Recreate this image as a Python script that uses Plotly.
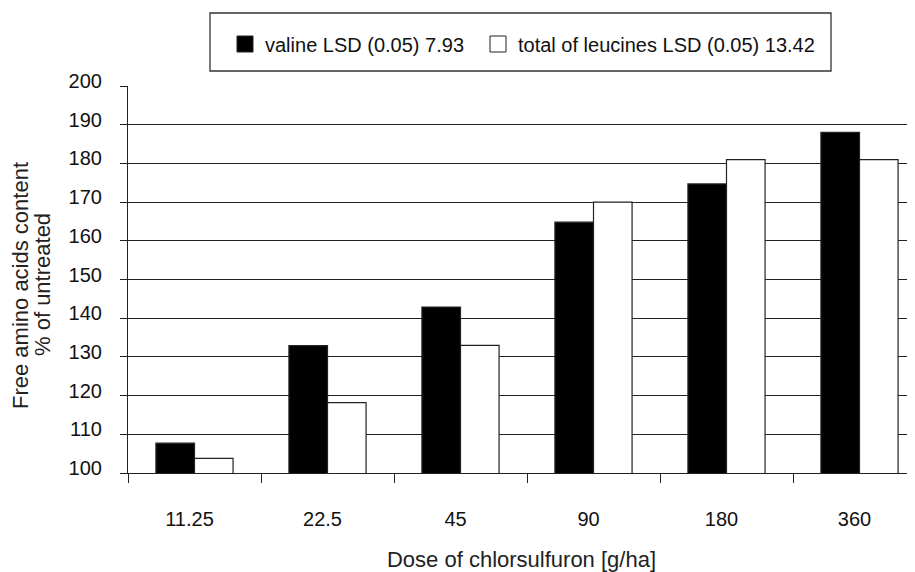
import plotly.graph_objects as go

doses = ["11.25", "22.5", "45", "90", "180", "360"]
valine = [107.7, 132.9, 142.9, 164.8, 174.7, 188.0]
leucines = [103.8, 118.2, 133.0, 170.0, 181.0, 181.0]
y_ticks = [100, 110, 120, 130, 140, 150, 160, 170, 180, 190, 200]
names = ["valine LSD (0.05) 7.93", "total of leucines LSD (0.05) 13.42"]
y_title_lines = ["Free amino acids content", "% of untreated"]
x_title = "Dose of chlorsulfuron [g/ha]"

# page has an 8px body margin; figure is sized to fill the rest of the window
OFF = 8
W, H = 915 - OFF, 572 - OFF
PL, PT, PB = 128, 86, 473          # plot edges in page pixels
L, T = PL - OFF, PT - OFF
B = H - (PB - OFF)
R = 0
pw, ph = W - L - R, (PB - PT)

def px(x):
    return (x - PL) / pw

def py(y):
    return (PB - y) / ph

fig = go.Figure()
fig.add_trace(go.Bar(x=doses, y=valine, name=names[0], showlegend=False,
                     marker=dict(color="black", line=dict(color="#222", width=1.2))))
fig.add_trace(go.Bar(x=doses, y=leucines, name=names[1], showlegend=False,
                     marker=dict(color="white", line=dict(color="#222", width=1.2))))
# legend entries with 16px square swatches, one legend each
fig.add_trace(go.Scatter(x=[None], y=[None], mode="markers", name=names[0], legend="legend",
                         marker=dict(symbol="square", size=16, color="black",
                                     line=dict(color="#222", width=1))))
fig.add_trace(go.Scatter(x=[None], y=[None], mode="markers", name=names[1], legend="legend2",
                         marker=dict(symbol="square", size=16, color="white",
                                     line=dict(color="#222", width=1))))

leg_common = dict(orientation="h", xanchor="left", yanchor="middle",
                  font=dict(size=20, color="#111"), bgcolor="rgba(0,0,0,0)",
                  borderwidth=0, itemwidth=30)

fig.update_layout(
    width=W, height=H,
    margin=dict(l=L, r=R, t=T, b=B, autoexpand=False),
    paper_bgcolor="white", plot_bgcolor="white",
    barmode="group", bargap=0.42, bargroupgap=0,
    font=dict(family="Liberation Sans, Arial, sans-serif", size=20, color="#111"),
    showlegend=True,
    legend=dict(x=px(225), y=py(44), **leg_common),
    legend2=dict(x=px(478), y=py(44), **leg_common),
    shapes=[dict(type="rect", xref="paper", yref="paper",
                 x0=px(210), x1=px(831), y0=py(71), y1=py(13),
                 line=dict(color="#333", width=1.3), fillcolor="rgba(0,0,0,0)")],
    annotations=[
        dict(text=y_title_lines[0], xref="paper", yref="paper", x=px(20), y=py(285),
             xanchor="center", yanchor="middle", textangle=-90, showarrow=False,
             font=dict(size=22, color="#222")),
        dict(text=y_title_lines[1], xref="paper", yref="paper", x=px(42), y=py(285),
             xanchor="center", yanchor="middle", textangle=-90, showarrow=False,
             font=dict(size=22, color="#222")),
    ],
    xaxis=dict(
        type="category", range=[-0.5, -0.5 + pw / 133.0], automargin=False,
        showline=True, linecolor="#222", linewidth=1.2,
        ticks="outside", tickson="boundaries", ticklen=9, tickcolor="#222", tickwidth=1.2,
        showgrid=False, ticklabelstandoff=28, ticklabelshift=-5,
        tickfont=dict(size=20, color="#111"),
        title=dict(text=x_title, font=dict(size=22, color="#222"), standoff=22),
    ),
    yaxis=dict(
        range=[100, 200], tickvals=y_ticks, automargin=False,
        showline=True, linecolor="#222", linewidth=1.2,
        ticks="outside", ticklen=7, tickcolor="#222", tickwidth=1.2,
        showgrid=True, gridcolor="#222", gridwidth=1.2,
        zeroline=False, ticklabelstandoff=14, ticklabelshift=-5,
        tickfont=dict(size=20, color="#111"),
    ),
)

fig.write_html("out.html")
